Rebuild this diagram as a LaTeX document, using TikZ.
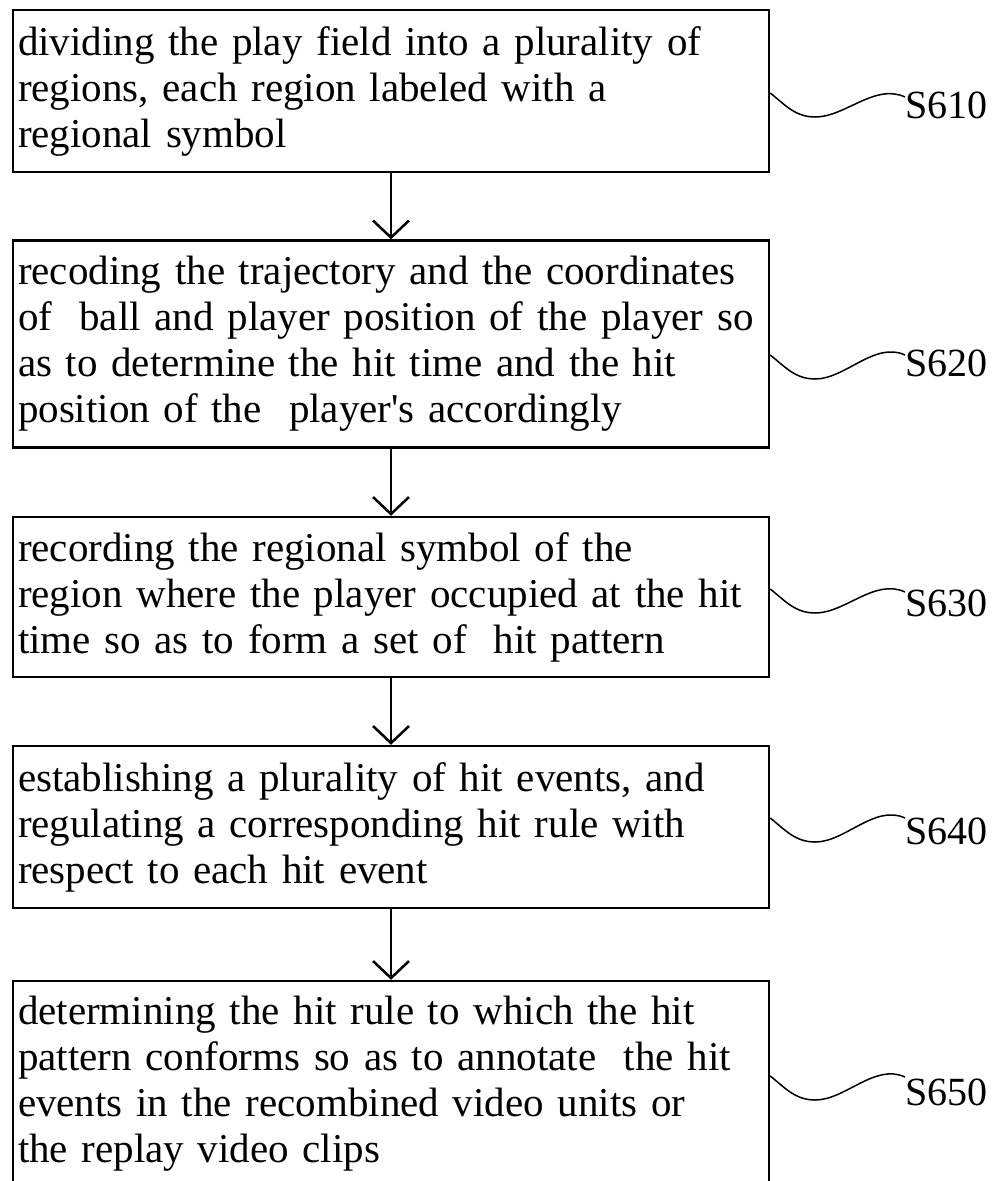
\documentclass[tikz,border=0pt]{standalone}
\usepackage{fontspec}
\setmainfont{Liberation Serif}
\usetikzlibrary{arrows.meta,positioning}

\begin{document}
\begin{tikzpicture}[
	    x=1pt, y=-1pt,
	    stepbox/.style={rectangle, draw, line width=2.5pt, minimum width=756pt, text width=746pt, inner xsep=5pt, align=left, font=\fontsize{41}{46}\selectfont},
	    steplabel/.style={anchor=west, inner sep=0pt, font=\fontsize{40}{44}\selectfont},
	    normalline/.style={-{Straight Barb[length=17pt, width=36pt]}, line width=2.5pt},
	    leadline/.style={line width=1.5pt},
	]
	\useasboundingbox (0,0) rectangle (997,1181);

	% Steps
	\node[stepbox, minimum height=162pt] (s610) at (391, 91) {dividing the play field into a plurality of\\regions, each region labeled with a\\regional symbol};
	\node[stepbox, minimum height=207pt, below=66pt of s610] (s620) {recoding the trajectory and the coordinates\\of~ ball and player position of the player so\\as to determine the hit time and the hit\\position of the~ player\textquotesingle s accordingly};
	\node[stepbox, minimum height=160pt, below=67pt of s620] (s630) {recording the regional symbol of the\\region where the player occupied at the hit\\time so as to form a set of~ hit pattern};
	\node[stepbox, minimum height=162pt, below=66.5pt of s630] (s640) {establishing a plurality of hit events, and\\regulating a corresponding hit rule with\\respect to each hit event};
	\node[stepbox, minimum height=206pt, below=70.5pt of s640] (s650) {determining the hit rule to which the hit\\pattern conforms so as to annotate~ the hit\\events in the recombined video units or\\the replay video clips};

	% Labels
	\node[steplabel] (l610) at (905, 105) {S610};
	\node[steplabel] (l620) at (905, 363) {S620};
	\node[steplabel] (l630) at (905, 603) {S630};
	\node[steplabel] (l640) at (905, 831) {S640};
	\node[steplabel] (l650) at (905, 1092) {S650};

	% connection lines
	\draw [normalline] (s610) -- (s620);
	\draw [normalline] (s620) -- (s630);
	\draw [normalline] (s630) -- (s640);
	\draw [normalline] (s640) -- (s650);

	% lead lines
	\draw [leadline] ([yshift=-2pt]s610.east) .. controls +(15,12) and +(-20,0) .. ++(45,24) .. controls +(30,0) and +(-30,-14) .. ([yshift=8pt]l610.west);
	\draw [leadline] ([yshift=-11pt]s620.east) .. controls +(15,12) and +(-20,0) .. ++(45,24) .. controls +(30,0) and +(-30,-14) .. ([yshift=8pt]l620.west);
	\draw [leadline] ([yshift=8pt]s630.east) .. controls +(15,12) and +(-20,0) .. ++(45,24) .. controls +(30,0) and +(-30,-14) .. ([yshift=11pt]l630.west);
	\draw [leadline] ([yshift=9pt]s640.east) .. controls +(15,12) and +(-20,0) .. ++(45,24) .. controls +(30,0) and +(-30,-14) .. ([yshift=13pt]l640.west);
	\draw [leadline] ([yshift=8pt]s650.east) .. controls +(15,12) and +(-20,0) .. ++(45,24) .. controls +(30,0) and +(-30,-14) .. ([yshift=15pt]l650.west);

\end{tikzpicture}
\end{document}
